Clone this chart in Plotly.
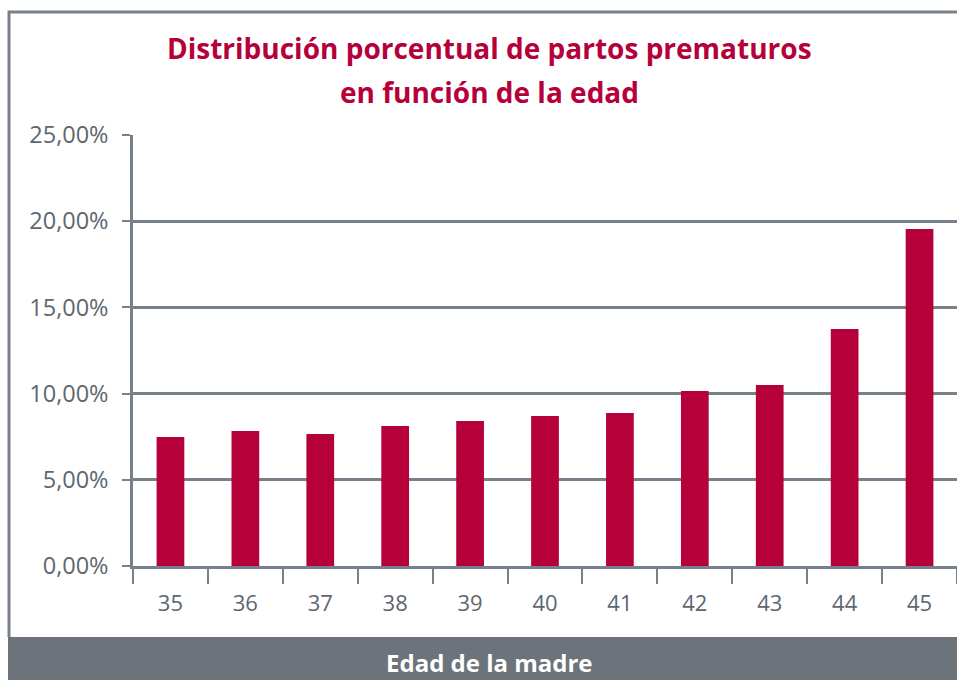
import plotly.graph_objects as go

ages = ["35", "36", "37", "38", "39", "40", "41", "42", "43", "44", "45"]
values = [7.48, 7.83, 7.66, 8.12, 8.41, 8.70, 8.87, 10.15, 10.50, 13.75, 19.55]
y_ticks = [0, 5, 10, 15, 20, 25]
y_labels = ["0,00%", "5,00%", "10,00%", "15,00%", "20,00%", "25,00%"]

W, H = 957, 680
L, R, T, B = 133, 0, 135, 114
PW = W - L - R
PH = H - T - B

def px(x):
    return (x - L) / PW

def py(y):
    return (H - B - y) / PH

GRAY = "#78818a"
RED = "#b5003a"
TXT = "#5d6770"

fig = go.Figure(go.Bar(x=ages, y=values, marker=dict(color=RED, line=dict(width=0)), width=0.37))

fig.update_layout(
    width=W, height=H,
    margin=dict(l=L, r=R, t=T, b=B),
    paper_bgcolor="white", plot_bgcolor="white",
    separators=",.",
    showlegend=False,
    font=dict(family="Open Sans", color=TXT),
)
fig.update_xaxes(
    type="category", range=[-0.5, 10.5],
    showline=True, linecolor=GRAY, linewidth=2.5,
    ticks="outside", tickson="boundaries", ticklen=15, tickwidth=2, tickcolor=GRAY,
    tickfont=dict(family="Open Sans", size=22, color=TXT),
    ticklabelstandoff=16,
    showgrid=False,
)
fig.update_yaxes(
    range=[0, 25], tickvals=y_ticks, ticktext=y_labels,
    showline=True, linecolor=GRAY, linewidth=2.5,
    ticks="outside", ticklen=8, tickwidth=2, tickcolor=GRAY,
    tickfont=dict(family="Open Sans", size=23.5, color=TXT),
    ticklabelstandoff=9,
    showgrid=True, gridcolor=GRAY, gridwidth=2.5,
    zeroline=False,
)

fig.add_shape(type="rect", xref="paper", yref="paper",
              x0=px(8), x1=px(W + 20), y0=py(H + 20), y1=py(637),
              fillcolor="#6c737a", line=dict(width=0), layer="below")
fig.add_shape(type="path", xref="paper", yref="paper",
              path=f"M {px(9)} {py(637)} L {px(9)} {py(12)} L {px(W + 20)} {py(12)}",
              line=dict(color=GRAY, width=3), layer="below")

fig.add_annotation(xref="paper", yref="paper", x=px(489), y=py(48),
                   text="<b>Distribución porcentual de partos prematuros</b>",
                   showarrow=False, xanchor="center", yanchor="middle",
                   font=dict(family="Open Sans", size=28, color=RED))
fig.add_annotation(xref="paper", yref="paper", x=px(489), y=py(92),
                   text="<b>en función de la edad</b>",
                   showarrow=False, xanchor="center", yanchor="middle",
                   font=dict(family="Open Sans", size=28, color=RED))
fig.add_annotation(xref="paper", yref="paper", x=px(489), y=py(662),
                   text="<b>Edad de la madre</b>",
                   showarrow=False, xanchor="center", yanchor="middle",
                   font=dict(family="Open Sans", size=24, color="white"))

fig.write_html("out.html", config={"displayModeBar": False},
               post_script="document.body.style.margin='0';document.body.style.overflow='hidden';")
